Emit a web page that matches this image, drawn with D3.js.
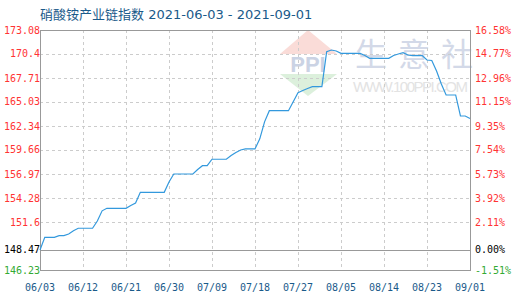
<!DOCTYPE html>
<html>
<head>
<meta charset="utf-8">
<script src="https://cdn.jsdelivr.net/npm/d3@7/dist/d3.min.js"></script>
<style>
  body { margin: 0; background: #fff; }
  svg { display: block; }
</style>
</head>
<body>
<div id="chart"></div>
<script>
// chart data
const title = "硝酸铵产业链指数 2021-06-03 - 2021-09-01";
const startDate = "2021-06-03";
const endDate = "2021-09-01";
const baseValue = 148.47;

// one value per day from 06/03 to 09/01
const values = [
  148.47, 149.89, 149.89, 149.89, 150.07, 150.07, 150.26, 150.63, 150.90, 150.90,
  150.90, 150.90, 151.71, 152.85, 153.13, 153.13, 153.13, 153.13, 153.13, 153.45,
  153.73, 154.92, 154.92, 154.92, 154.92, 154.92, 154.92, 156.08, 156.97, 156.97,
  156.97, 156.97, 156.97, 157.47, 157.90, 157.90, 158.62, 158.62, 158.62, 158.62,
  159.04, 159.38, 159.66, 159.77, 159.77, 159.77, 160.90, 162.80, 164.05, 164.05,
  164.05, 164.05, 164.05, 165.06, 166.07, 166.31, 166.54, 166.74, 166.74, 166.74,
  170.65, 170.84, 170.73, 170.47, 170.47, 170.47, 170.47, 170.47, 170.23, 169.91,
  169.91, 169.91, 169.91, 169.91, 170.23, 170.40, 170.54, 170.28, 170.22, 170.22,
  170.22, 169.72, 169.67, 168.49, 167.04, 165.81, 165.81, 165.81, 163.46, 163.46,
  163.18
];

const xTickLabels = ["06/03", "06/12", "06/21", "06/30", "07/09", "07/18", "07/27", "08/05", "08/14", "08/23", "09/01"];
const yTicks = [173.08, 170.4, 167.71, 165.03, 162.34, 159.66, 156.97, 154.28, 151.6, 148.47, 146.23];
const yTickLabels = ["173.08", "170.4", "167.71", "165.03", "162.34", "159.66", "156.97", "154.28", "151.6", "148.47", "146.23"];
const pctLabels = ["16.58%", "14.77%", "12.96%", "11.15%", "9.35%", "7.54%", "5.73%", "3.92%", "2.11%", "0.00%", "-1.51%"];
const watermarkChars = ["生", "意", "社"];

const width = 520, height = 300;
const margin = {left: 40, right: 470, top: 30, bottom: 270};

const parseDate = d3.timeParse("%Y-%m-%d");
const parseTick = d3.timeParse("%Y/%m/%d");
const days = d3.timeDay.range(parseDate(startDate), d3.timeDay.offset(parseDate(endDate), 1));
const data = values.map((v, i) => ({date: days[i], value: v}));
const tickDates = xTickLabels.map(l => parseTick("2021/" + l));

const x = d3.scaleTime()
  .domain([parseDate(startDate), parseDate(endDate)])
  .range([margin.left, margin.right]);
const y = d3.scaleLinear()
  .domain([146.23, 173.08])
  .range([margin.bottom, margin.top]);

const svg = d3.select("#chart").append("svg")
  .attr("width", width)
  .attr("height", height);

// watermark
const wm = svg.append("g");
wm.append("polygon")
  .attr("points", "280,54 337,54 308,30")
  .attr("fill", "#fadcd8");
wm.append("polygon")
  .attr("points", "280,74 337,74 308,96")
  .attr("fill", "#dcf0dc");
wm.append("text")
  .attr("x", 308).attr("y", 72)
  .attr("text-anchor", "middle")
  .style("font-family", "Liberation Sans, Arial, sans-serif")
  .style("font-weight", "bold")
  .style("font-size", "22px")
  .attr("fill", "#cbd3e4")
  .text("PPI");
wm.selectAll(".wmc")
  .data(watermarkChars)
  .enter().append("text")
  .attr("x", (d, i) => 371 + i * 43)
  .attr("y", 66)
  .attr("text-anchor", "middle")
  .style("font-family", "Noto Sans CJK SC")
  .style("font-size", "32px")
  .attr("fill", "#d3d9e8")
  .text(d => d);
wm.append("text")
  .attr("x", 353).attr("y", 92)
  .attr("textLength", 115)
  .style("font-family", "Liberation Sans, Arial, sans-serif")
  .style("font-size", "15px")
  .attr("fill", "#e3e3e3")
  .text("WWW.100PPI.COM");

// grid
const grid = svg.append("g")
  .attr("stroke", "#cccccc")
  .attr("stroke-dasharray", "3,3")
  .attr("stroke-width", 1);
grid.selectAll(".hg")
  .data(yTicks.filter(v => v !== 146.23 && v !== 173.08 && v !== baseValue))
  .enter().append("line")
  .attr("x1", margin.left).attr("x2", margin.right)
  .attr("y1", d => Math.round(y(d)) + 0.5)
  .attr("y2", d => Math.round(y(d)) + 0.5);
grid.selectAll(".vg")
  .data(tickDates.slice(1, -1))
  .enter().append("line")
  .attr("y1", margin.top).attr("y2", margin.bottom)
  .attr("x1", d => Math.round(x(d)) + 0.5)
  .attr("x2", d => Math.round(x(d)) + 0.5);

// frame and base line
svg.append("rect")
  .attr("x", margin.left + 0.5).attr("y", margin.top + 0.5)
  .attr("width", margin.right - margin.left).attr("height", margin.bottom - margin.top)
  .attr("fill", "none")
  .attr("stroke", "#999999");
svg.append("line")
  .attr("x1", margin.left).attr("x2", margin.right)
  .attr("y1", Math.round(y(baseValue)) + 0.5)
  .attr("y2", Math.round(y(baseValue)) + 0.5)
  .attr("stroke", "#999999");

// the line
svg.append("path")
  .datum(data)
  .attr("fill", "none")
  .attr("stroke", "#3399dd")
  .attr("stroke-width", 1.2)
  .attr("d", d3.line()
    .x(d => x(d.date))
    .y(d => y(d.value)));

// labels
function labelColor(v) {
  if (v > baseValue) return "#ff3333";
  if (v < baseValue) return "#33aa33";
  return "#000000";
}
const monoFont = "DejaVu Sans Mono, monospace";

svg.append("g").selectAll("text")
  .data(yTicks)
  .enter().append("text")
  .attr("x", margin.left)
  .attr("y", d => y(d))
  .attr("dy", "0.35em")
  .attr("text-anchor", "end")
  .style("font-family", monoFont)
  .style("font-size", "10px")
  .attr("fill", d => labelColor(d))
  .text((d, i) => yTickLabels[i]);

svg.append("g").selectAll("text")
  .data(yTicks)
  .enter().append("text")
  .attr("x", margin.right + 5)
  .attr("y", d => y(d))
  .attr("dy", "0.35em")
  .style("font-family", monoFont)
  .style("font-size", "10px")
  .attr("fill", d => labelColor(d))
  .text((d, i) => pctLabels[i]);

svg.append("g").selectAll("text")
  .data(tickDates)
  .enter().append("text")
  .attr("x", d => x(d))
  .attr("y", 291)
  .attr("text-anchor", "middle")
  .style("font-family", monoFont)
  .style("font-size", "10px")
  .attr("fill", "#1a5a8a")
  .text((d, i) => xTickLabels[i]);

svg.append("text")
  .attr("x", 40).attr("y", 19)
  .style("font-family", "DejaVu Sans, Noto Sans CJK SC, sans-serif")
  .style("font-size", "13px")
  .attr("fill", "#1a5a8a")
  .text(title);
</script>
</body>
</html>
